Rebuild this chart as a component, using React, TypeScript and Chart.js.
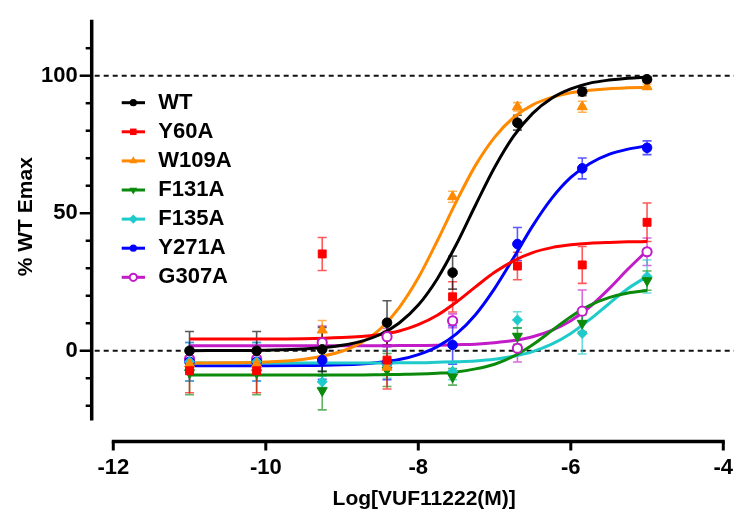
import { useEffect, useRef } from 'react';
import { Chart, registerables } from 'chart.js';

Chart.register(...registerables);

// ---------- data ----------
const SERIES_NAMES = ['WT', 'Y60A', 'W109A', 'F131A', 'F135A', 'Y271A', 'G307A'];

// log concentrations of the measured points
const POINT_X = [-11.0, -10.12, -9.26, -8.41, -7.55, -6.7, -5.85, -5.0];

const WT_Y = [0, 0, 0.5, 10.2, 28.4, 82.9, 94.2, 98.7];
const WT_ERR = [7, 7, 8, 8, 6, 2.7, 1.5, 1];
const Y60A_Y = [-7.3, -7.3, 35.2, -3.4, 19.6, 30.8, 31.2, 46.7];
const Y60A_ERR = [8, 8, 6, 10.5, 5.5, 5, 6.7, 7];
const W109A_Y = [-4.8, -4.8, 7.5, -6, 56, 88.7, 88.7, 96];
const W109A_ERR = [3, 3, 3.5, 3, 2, 1.5, 2, 1];
const F131A_Y = [-8, -8, -14.5, -7, -9.5, 5.3, 10, 25.5];
const F131A_ERR = [8, 8, 7, 6, 3, 3, 3, 3.5];
const F135A_Y = [-4, -4, -11.3, -5, -7.5, 11.2, 6.3, 27];
const F135A_ERR = [7, 7, 2, 5, 3, 3, 7.5, 6];
const Y271A_Y = [-4, -4, -3.4, -4.5, 2.1, 38.8, 66.3, 73.8];
const Y271A_ERR = [7, 7, 7, 6, 7, 6, 3.8, 2.5];
const G307A_Y = [-3, -3, 3, 5.1, 10.9, 0.9, 14.4, 36];
const G307A_ERR = [3, 3, 6, 3, 2.5, 5, 7.7, 5];

// fitted curves
const CURVE_X = [-11, -10.5, -10, -9.5, -9, -8.75, -8.5, -8.25, -8, -7.75, -7.5, -7.25, -7, -6.75, -6.5, -6.25, -6, -5.75, -5.5, -5.25, -5];
const WT_CURVE = [0.0, 0.1, 0.2, 0.6, 2.0, 3.4, 5.9, 10.1, 16.6, 26.2, 38.7, 52.9, 66.6, 78.0, 86.3, 91.8, 95.2, 97.3, 98.4, 99.1, 99.5];
const Y60A_CURVE = [4.3, 4.3, 4.3, 4.4, 4.8, 5.2, 5.9, 7.2, 9.5, 12.9, 17.7, 23.2, 28.5, 32.7, 35.7, 37.5, 38.5, 39.1, 39.4, 39.6, 39.7];
const W109A_CURVE = [-4.5, -4.4, -4.1, -3.1, -0.2, 2.9, 7.9, 15.7, 26.5, 40.0, 54.3, 67.4, 77.6, 84.8, 89.4, 92.1, 93.8, 94.7, 95.3, 95.6, 95.8];
const F131A_CURVE = [-8.8, -8.8, -8.8, -8.8, -8.8, -8.8, -8.7, -8.6, -8.5, -8.2, -7.7, -6.6, -4.9, -2.0, 2.2, 7.3, 12.4, 16.5, 19.3, 21.0, 21.9];
const F135A_CURVE = [-4.5, -4.5, -4.5, -4.5, -4.5, -4.5, -4.5, -4.4, -4.4, -4.2, -4.0, -3.7, -3.1, -2.0, -0.3, 2.4, 6.3, 11.4, 17.1, 22.6, 27.0];
const Y271A_CURVE = [-5.5, -5.5, -5.5, -5.4, -5.1, -4.8, -4.2, -3.2, -1.4, 1.5, 6.1, 13.1, 22.6, 33.8, 45.4, 55.4, 63.0, 68.1, 71.4, 73.3, 74.5];
const G307A_CURVE = [1.8, 1.8, 1.8, 1.8, 1.8, 1.8, 1.8, 1.9, 1.9, 2.0, 2.2, 2.4, 2.9, 3.7, 5.1, 7.4, 10.9, 16.0, 22.5, 29.7, 36.4];

// axes
const X_TICKS = [-12, -10, -8, -6, -4];
const Y_TICKS = [0, 50, 100];
const Y_MINOR_TICKS = [-20, -10, 10, 20, 30, 40, 60, 70, 80, 90, 110];
const REF_LINES = [0, 100];
const X_AXIS_RANGE = [-12, -4];
const Y_AXIS_RANGE = [-25, 120];
const X_TITLE = 'Log[VUF11222(M)]';
const Y_TITLE = '% WT Emax';

// ---------- styling ----------
type Series = {
  name: string; color: string; y: number[]; err: number[]; curve: number[];
  style: string; radius: number; rotation: number; filled: boolean;
};

const SERIES: Series[] = [
  { name: SERIES_NAMES[0], color: '#000000', y: WT_Y, err: WT_ERR, curve: WT_CURVE, style: 'circle', radius: 4.8, rotation: 0, filled: true },
  { name: SERIES_NAMES[1], color: '#FF0000', y: Y60A_Y, err: Y60A_ERR, curve: Y60A_CURVE, style: 'rect', radius: 5.6, rotation: 0, filled: true },
  { name: SERIES_NAMES[2], color: '#FF8A00', y: W109A_Y, err: W109A_ERR, curve: W109A_CURVE, style: 'triangle', radius: 5.8, rotation: 0, filled: true },
  { name: SERIES_NAMES[3], color: '#0B8A0B', y: F131A_Y, err: F131A_ERR, curve: F131A_CURVE, style: 'triangle', radius: 5.8, rotation: 180, filled: true },
  { name: SERIES_NAMES[4], color: '#1FCACA', y: F135A_Y, err: F135A_ERR, curve: F135A_CURVE, style: 'rectRot', radius: 5, rotation: 0, filled: true },
  { name: SERIES_NAMES[5], color: '#0000FF', y: Y271A_Y, err: Y271A_ERR, curve: Y271A_CURVE, style: 'circle', radius: 4.8, rotation: 0, filled: true },
  { name: SERIES_NAMES[6], color: '#C21BC8', y: G307A_Y, err: G307A_ERR, curve: G307A_CURVE, style: 'circle', radius: 4.6, rotation: 0, filled: false },
];

const FONT = "Arial, 'Liberation Sans', Helvetica, sans-serif";

function rgba(hex: string, a: number) {
  const n = parseInt(hex.slice(1), 16);
  return `rgba(${(n >> 16) & 255},${(n >> 8) & 255},${n & 255},${a})`;
}

function drawMarker(ctx: CanvasRenderingContext2D, s: Series, x: number, y: number, r: number) {
  ctx.beginPath();
  if (s.style === 'circle') {
    ctx.arc(x, y, r, 0, Math.PI * 2);
  } else if (s.style === 'rect') {
    const h = r * Math.SQRT1_2;
    ctx.rect(x - h, y - h, 2 * h, 2 * h);
  } else if (s.style === 'triangle') {
    const d = s.rotation === 180 ? -1 : 1;
    ctx.moveTo(x, y - d * r);
    ctx.lineTo(x + r * 0.866, y + d * r * 0.5);
    ctx.lineTo(x - r * 0.866, y + d * r * 0.5);
    ctx.closePath();
  } else if (s.style === 'rectRot') {
    ctx.moveTo(x, y - r);
    ctx.lineTo(x + r, y);
    ctx.lineTo(x, y + r);
    ctx.lineTo(x - r, y);
    ctx.closePath();
  }
  if (s.filled) {
    ctx.fillStyle = s.color;
    ctx.fill();
  } else {
    ctx.fillStyle = '#ffffff';
    ctx.fill();
    ctx.lineWidth = 2;
    ctx.strokeStyle = s.color;
    ctx.stroke();
  }
}

const decorPlugin = {
  id: 'decor',
  beforeDatasetsDraw(chart: any) {
    const ctx: CanvasRenderingContext2D = chart.ctx;
    const xs = chart.scales.x;
    const ys = chart.scales.y;
    const area = chart.chartArea;
    ctx.save();

    // dashed reference lines
    ctx.strokeStyle = '#111';
    ctx.lineWidth = 2;
    ctx.setLineDash([5, 4]);
    REF_LINES.forEach((v) => {
      const py = ys.getPixelForValue(v);
      ctx.beginPath();
      ctx.moveTo(area.left + 3, py);
      ctx.lineTo(chart.width, py);
      ctx.stroke();
    });
    ctx.setLineDash([]);

    // y axis
    const ax = area.left;
    ctx.strokeStyle = '#000';
    ctx.lineWidth = 3.5;
    ctx.lineCap = 'butt';
    ctx.beginPath();
    ctx.moveTo(ax, ys.getPixelForValue(Y_AXIS_RANGE[1]) - 1);
    ctx.lineTo(ax, ys.getPixelForValue(Y_AXIS_RANGE[0]) + 1);
    ctx.stroke();
    ctx.lineWidth = 2.5;
    Y_TICKS.forEach((v) => {
      const py = ys.getPixelForValue(v);
      ctx.beginPath();
      ctx.moveTo(ax - 12, py);
      ctx.lineTo(ax, py);
      ctx.stroke();
    });
    Y_MINOR_TICKS.forEach((v) => {
      const py = ys.getPixelForValue(v);
      ctx.beginPath();
      ctx.moveTo(ax - 6, py);
      ctx.lineTo(ax, py);
      ctx.stroke();
    });

    // x axis
    const ay = area.bottom;
    ctx.lineWidth = 3.5;
    ctx.beginPath();
    ctx.moveTo(xs.getPixelForValue(X_AXIS_RANGE[0]) - 1.5, ay);
    ctx.lineTo(xs.getPixelForValue(X_AXIS_RANGE[1]) + 1.5, ay);
    ctx.stroke();
    ctx.lineWidth = 3;
    X_TICKS.forEach((v) => {
      const px = xs.getPixelForValue(v);
      ctx.beginPath();
      ctx.moveTo(px, ay);
      ctx.lineTo(px, ay + 9);
      ctx.stroke();
    });

    // error bars
    ctx.lineWidth = 1.6;
    SERIES.slice().reverse().forEach((s) => {
      ctx.strokeStyle = rgba(s.color, 0.65);
      POINT_X.forEach((xv, i) => {
        const px = xs.getPixelForValue(xv);
        const top = ys.getPixelForValue(s.y[i] + s.err[i]);
        const bot = ys.getPixelForValue(s.y[i] - s.err[i]);
        ctx.beginPath();
        ctx.moveTo(px, top);
        ctx.lineTo(px, bot);
        ctx.moveTo(px - 4.5, top);
        ctx.lineTo(px + 4.5, top);
        ctx.moveTo(px - 4.5, bot);
        ctx.lineTo(px + 4.5, bot);
        ctx.stroke();
      });
    });
    ctx.restore();
  },
  afterDraw(chart: any) {
    const ctx: CanvasRenderingContext2D = chart.ctx;
    ctx.save();
    // legend
    ctx.font = `bold 22px ${FONT}`;
    ctx.textAlign = 'left';
    ctx.textBaseline = 'middle';
    SERIES.forEach((s, i) => {
      const y = 102.7 + i * 29.1;
      ctx.strokeStyle = s.color;
      ctx.lineWidth = 3;
      ctx.beginPath();
      ctx.moveTo(121.7, y);
      ctx.lineTo(145, y);
      ctx.stroke();
      drawMarker(ctx, s, 133.3, y, s.style === 'circle' ? 3.6 : 4.6);
      ctx.fillStyle = '#000';
      ctx.fillText(s.name, 158.3, y);
    });

    // axis titles
    ctx.fillStyle = '#000';
    ctx.font = `bold 21px ${FONT}`;
    ctx.textAlign = 'center';
    ctx.textBaseline = 'alphabetic';
    ctx.fillText(X_TITLE, 424.2, 504.6);
    ctx.translate(31.7, 216.7);
    ctx.rotate(-Math.PI / 2);
    ctx.fillText(Y_TITLE, 0, 0);
    ctx.restore();
  },
};

export default function App() {
  const ref = useRef<HTMLCanvasElement | null>(null);

  useEffect(() => {
    if (!ref.current) return;
    Chart.defaults.font.family = FONT;

    const pointSets = SERIES.map((s) => ({
      label: s.name,
      data: POINT_X.map((x, i) => ({ x, y: s.y[i] })),
      showLine: false,
      order: 1,
      pointStyle: s.style,
      pointRotation: s.rotation,
      pointRadius: s.radius,
      pointBorderWidth: s.filled ? 1 : 2,
      pointBackgroundColor: s.filled ? s.color : '#ffffff',
      pointBorderColor: s.color,
      borderColor: s.color,
      backgroundColor: s.color,
    }));
    const curveSets = SERIES.map((s) => ({
      label: s.name + ' fit',
      data: CURVE_X.map((x, i) => ({ x, y: s.curve[i] })),
      showLine: true,
      order: 2,
      pointRadius: 0,
      borderWidth: 3,
      borderColor: s.color,
      backgroundColor: s.color,
      cubicInterpolationMode: 'monotone',
      fill: false,
    }));

    const chart = new Chart(ref.current, {
      type: 'scatter',
      data: { datasets: [...pointSets, ...curveSets] as any },
      options: {
        responsive: false,
        animation: false,
        events: [],
        layout: { padding: { top: 20.7, right: 10.7, left: 0, bottom: 0 } },
        plugins: { legend: { display: false }, tooltip: { enabled: false } },
        scales: {
          x: {
            type: 'linear',
            min: -12.283,
            max: -4,
            grid: { display: false, drawTicks: false },
            border: { display: false },
            afterBuildTicks: (s: any) => { s.ticks = X_TICKS.map((v) => ({ value: v })); },
            afterFit: (s: any) => { s.height = 72.5; s.paddingLeft = 0; s.paddingRight = 0; },
            ticks: {
              padding: 13,
              color: '#000',
              maxRotation: 0,
              autoSkip: false,
              font: { size: 22, weight: 'bold', family: FONT },
              callback: (v: any) => String(v),
            },
          },
          y: {
            type: 'linear',
            min: -33,
            max: 120,
            grid: { display: false, drawTicks: false },
            border: { display: false },
            afterBuildTicks: (s: any) => { s.ticks = Y_TICKS.map((v) => ({ value: v })); },
            afterFit: (s: any) => { s.width = 91.7; s.paddingTop = 0; s.paddingBottom = 0; },
            ticks: {
              padding: 14,
              color: '#000',
              autoSkip: false,
              font: { size: 22, weight: 'bold', family: FONT },
              callback: (v: any) => String(v),
            },
          },
        },
      } as any,
      plugins: [decorPlugin],
    });
    return () => chart.destroy();
  }, []);

  return (
    <div style={{ position: 'fixed', left: 0, top: 0, width: 734, height: 514, background: '#ffffff' }}>
      <canvas ref={ref} width={734} height={514} style={{ display: 'block' }} />
    </div>
  );
}
